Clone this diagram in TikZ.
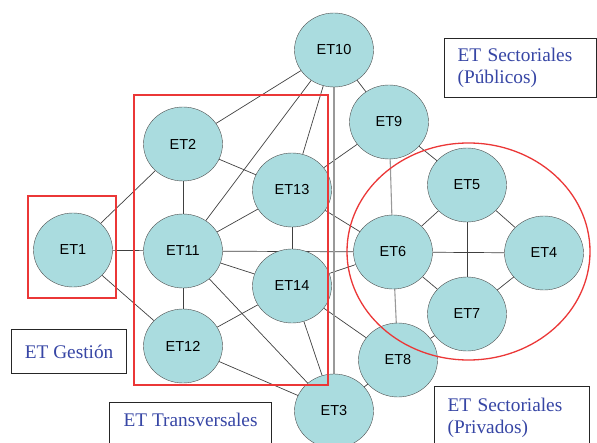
\documentclass[tikz,border=0pt]{standalone}
\usepackage{fontspec}
\setmainfont{Liberation Serif}
\newfontfamily\etfont{Liberation Sans}
\usetikzlibrary{shapes.geometric,backgrounds}
\definecolor{etfill}{RGB}{170,220,223}
\definecolor{etline}{RGB}{80,80,80}
\definecolor{boxblue}{RGB}{55,70,165}
\definecolor{grupored}{RGB}{235,55,55}

\begin{document}
\begin{tikzpicture}[x=1pt, y=-1pt,
		et/.style={draw=etline, fill=etfill, ellipse, minimum width=79pt, minimum height=74pt, inner sep=0pt, font=\etfont\fontsize{14.5}{17}\selectfont},
		link/.style={color=black!75, line width=0.7pt},
		glink/.style={color=black!40, line width=1.1pt},
		tbox/.style={draw=black!85, line width=1.2pt, fill=white, anchor=north west, align=left, inner xsep=13pt, text=boxblue, font=\fontsize{19.3}{22}\selectfont},
		grupo/.style={draw=grupored, line width=1.3pt}]
			\useasboundingbox (0,0) rectangle (597,443);
			\clip (0,0) rectangle (597,443);

			\node[et] (et10) at (334,50) {ET10};
			\node[et] (et9) at (389,122) {ET9};
			\node[et] (et2) at (183,144) {ET2};
			\node[et] (et13) at (292,190) {ET13};
			\node[et] (et1) at (73,250) {ET1};
			\node[et] (et11) at (183,251) {ET11};
			\node[et] (et14) at (292,286) {ET14};
			\node[et] (et12) at (183,346) {ET12};
			\node[et] (et3) at (334,411) {ET3};
			\node[et] (et6) at (393,252) {ET6};
			\node[et] (et5) at (467,185) {ET5};
			\node[et] (et4) at (544,253) {ET4};
			\node[et] (et7) at (467,314) {ET7};
			\node[et] (et8) at (398,360) {ET8};

			\node[tbox, text width=126pt, minimum height=59pt] (pub) at (444,38) {ET Sectoriales\\(Públicos)};
			\node[tbox, minimum width=115pt, minimum height=44pt, align=center] (gestion) at (11,329) {ET Gestión};
			\node[tbox, minimum width=162pt, align=center, inner ysep=4pt, text height=20pt, text depth=26pt] (transv) at (109,402) {ET Transversales};
			\node[tbox, text width=129pt, minimum height=62pt] (priv) at (434,386) {ET Sectoriales\\(Privados)};

			\begin{scope}[on background layer]
				\draw[link] (et1) to (et2);
				\draw[link] (et1) to (et11);
				\draw[link] (et1) to (et12);
				\draw[link] (et2) to (et11);
				\draw[link] (et11) to (et12);
				\draw[link] (et2) to (et10);
				\draw[link] (et2) to (et13);

				\draw[link] (et11) to (et10);
				\draw[link] (et11) to (et13);
				\draw[link] (et11) to (et14);
				\draw[link] (et11) to (et6);
				\draw[link] (et11) to (et3);

				\draw[link] (et13) to (et10);
				\draw[link] (et13) to (et14);
				\draw[link] (et13) to (et9);
				\draw[link] (et13) to (et6);

				\draw[link] (et14) to (et12);
				\draw[link] (et14) to (et6);
				\draw[link] (et14) to (et3);
				\draw[link] (et14) to (et8);
				\draw[link] (et12) to (et3);

				\draw[link] (et10) to (et9);
				\draw[glink] (et10) to (et3);
				\draw[glink] (et9) to (et6);
				\draw[link] (et9) to (et5);

				\draw[glink] (et6) to (et8);
				\draw[link] (et6) to (et5);
				\draw[link] (et6) to (et4);
				\draw[link] (et6) to (et7);
				\draw[link] (et5) to (et7);
				\draw[link] (et5) to (et4);
				\draw[link] (et7) to (et4);
				\draw[link] (et7) to (et8);
				\draw[link] (et8) to (et3);
			\end{scope}

			\draw[grupo] (28,196) rectangle (116,298);
			\draw[grupo] (134,95) rectangle (328,385);
			\draw[grupo] (468.5,251.5) ellipse [x radius=121.5pt, y radius=108.5pt];
		\end{tikzpicture}
\end{document}
